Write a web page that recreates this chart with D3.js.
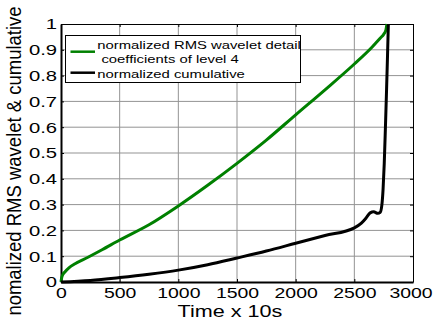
<!DOCTYPE html>
<html>
<head>
<meta charset="utf-8">
<script src="https://cdn.jsdelivr.net/npm/d3@7"></script>
<style>
  body { margin: 0; background: #fff; }
  text { font-family: "Liberation Sans", Arial, sans-serif; fill: #000; }
</style>
</head>
<body>
<svg id="chart" width="434" height="322"></svg>
<script>
// values
const rmsTime  = [0, 5, 15, 35, 70, 120, 230, 350, 500, 750, 1000, 1250, 1500, 1750, 2000, 2250, 2500, 2650, 2720, 2750, 2768, 2778];
const rmsValue = [0, 0.015, 0.028, 0.04, 0.056, 0.071, 0.096, 0.125, 0.163, 0.222, 0.295, 0.375, 0.46, 0.55, 0.648, 0.745, 0.845, 0.91, 0.945, 0.96, 0.975, 1.0];

const cumTime  = [0, 250, 500, 750, 1000, 1250, 1500, 1750, 2000, 2250, 2500, 2560, 2600, 2635, 2665, 2700, 2720, 2735, 2745, 2755, 2765, 2775, 2783, 2790];
const cumValue = [0, 0.006, 0.017, 0.03, 0.046, 0.067, 0.093, 0.12, 0.15, 0.18, 0.21, 0.228, 0.248, 0.268, 0.272, 0.266, 0.27, 0.3, 0.36, 0.46, 0.6, 0.75, 0.88, 1.0];

const xTicks = [0, 500, 1000, 1500, 2000, 2500, 3000];
const yTicks = [0, 0.1, 0.2, 0.3, 0.4, 0.5, 0.6, 0.7, 0.8, 0.9, 1];

const legendLabels = [["normalized RMS wavelet detail", " coefficients of level 4"], ["normalized cumulative"]];
const seriesColors = ["#008000", "#000000"];

const svg = d3.select('#chart');
const margin = { left: 61, right: 21, top: 24, bottom: 40 };
const width = +svg.attr('width');
const height = +svg.attr('height');
const stretch = 1.35; // text in the reference is widened horizontally

const x = d3.scaleLinear().domain([0, 3000]).range([margin.left, width - margin.right]);
const y = d3.scaleLinear().domain([0, 1]).range([height - margin.bottom, margin.top]);

// grid
svg.append('g')
    .selectAll('line')
    .data(xTicks.slice(1, -1))
    .enter().append('line')
    .attr('x1', d => x(d)).attr('x2', d => x(d))
    .attr('y1', y(0)).attr('y2', y(1))
    .attr('stroke', '#939393').attr('stroke-width', 1);

svg.append('g')
    .selectAll('line')
    .data(yTicks.slice(1, -1))
    .enter().append('line')
    .attr('x1', x(0)).attr('x2', x(3000))
    .attr('y1', d => y(d)).attr('y2', d => y(d))
    .attr('stroke', '#939393').attr('stroke-width', 1);

// box: top and right with inward ticks
svg.append('g')
    .attr('transform', `translate(0,${y(1)})`)
    .call(d3.axisTop(x).tickValues(xTicks).tickSizeInner(-3).tickSizeOuter(0).tickFormat(''))
    .call(g => g.selectAll('path, line').attr('stroke', '#000'));

svg.append('g')
    .attr('transform', `translate(${x(3000)},0)`)
    .call(d3.axisRight(y).tickValues(yTicks).tickSizeInner(-3).tickSizeOuter(0).tickFormat(''))
    .call(g => g.selectAll('path, line').attr('stroke', '#000'));

// bottom axis
const xAxis = svg.append('g')
    .attr('transform', `translate(0,${y(0)})`)
    .call(d3.axisBottom(x).tickValues(xTicks).tickSizeInner(-3).tickSizeOuter(0).tickPadding(6).tickFormat(d3.format('d')));
xAxis.select('.domain').attr('stroke', '#000').attr('stroke-width', 2);
xAxis.selectAll('text')
    .attr('font-size', 14.4)
    .attr('font-family', '"Liberation Sans", Arial, sans-serif')
    .attr('x', d => d === 3000 ? -2.5 / stretch : 0)
    .attr('transform', `scale(${stretch},1)`);

// left axis
const yAxis = svg.append('g')
    .attr('transform', `translate(${x(0)},0)`)
    .call(d3.axisLeft(y).tickValues(yTicks).tickSizeInner(-3).tickSizeOuter(0).tickPadding(4).tickFormat(d => d3.format('')(+d.toFixed(1))));
yAxis.select('.domain').attr('stroke', '#000').attr('stroke-width', 2);
yAxis.selectAll('text')
    .attr('font-size', 15)
    .attr('font-family', '"Liberation Sans", Arial, sans-serif')
    .attr('x', -4 / stretch)
    .attr('transform', `scale(${stretch},1)`);

// curves
const line = d3.line()
    .x(d => x(d[0]))
    .y(d => y(d[1]))
    .curve(d3.curveMonotoneX);

svg.append('path')
    .datum(d3.zip(rmsTime, rmsValue))
    .attr('d', line)
    .attr('fill', 'none')
    .attr('stroke', seriesColors[0])
    .attr('stroke-width', 3);

svg.append('path')
    .datum(d3.zip(cumTime, cumValue))
    .attr('d', line)
    .attr('fill', 'none')
    .attr('stroke', seriesColors[1])
    .attr('stroke-width', 3);

// axis labels
svg.append('text')
    .attr('transform', `translate(230,316.5) scale(${stretch},1)`)
    .attr('text-anchor', 'middle')
    .attr('font-size', 16)
    .text('Time x 10s');

svg.append('text')
    .attr('transform', `translate(21,161) rotate(-90) scale(1,1.05)`)
    .attr('text-anchor', 'middle')
    .attr('font-size', 18.5)
    .text('nomalized RMS wavelet & cumulative');

// legend
const legend = svg.append('g');
legend.append('rect')
    .attr('x', 65.5).attr('y', 35.5)
    .attr('width', 235).attr('height', 47)
    .attr('fill', '#fff').attr('stroke', '#000').attr('stroke-width', 1);

const legendRows = [
    { lineY: 51.7, texts: [{ x: 97.3, y: 49.3 }, { x: 97.3, y: 62.7 }] },
    { lineY: 72.7, texts: [{ x: 97.3, y: 77.7 }] }
];

legendRows.forEach((row, i) => {
    legend.append('line')
        .attr('x1', 70.5).attr('x2', 95)
        .attr('y1', row.lineY).attr('y2', row.lineY)
        .attr('stroke', seriesColors[i]).attr('stroke-width', 2.5);
    legendLabels[i].forEach((t, j) => {
        legend.append('text')
            .attr('transform', `translate(${row.texts[j].x},${row.texts[j].y}) scale(${stretch},1)`)
            .attr('font-size', 11)
            .attr('xml:space', 'preserve')
            .style('white-space', 'pre')
            .text(t);
    });
});
</script>
</body>
</html>
